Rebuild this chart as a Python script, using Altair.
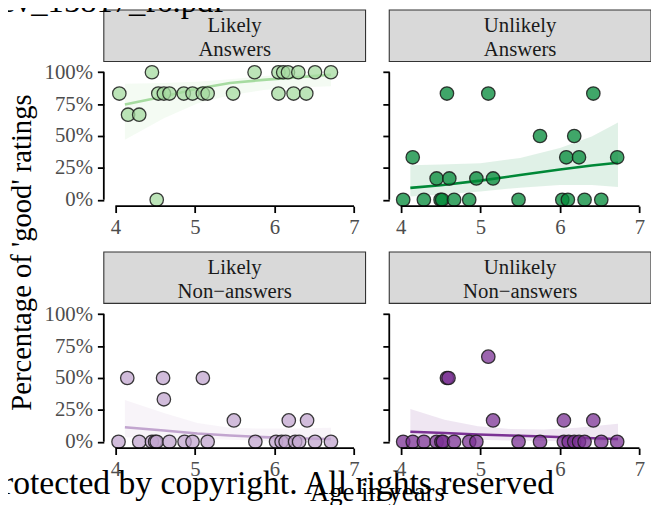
import altair as alt
import pandas as pd

FONT = "Liberation Serif"

panel_labels = ["Likely\nAnswers", "Unlikely\nAnswers", "Likely\nNon\u2212answers", "Unlikely\nNon\u2212answers"]
panel_colors = ["#a6dba0", "#008837", "#c2a5cf", "#7b3294"]

x_ticks = [4, 5, 6, 7]
y_ticks = [0, 0.25, 0.5, 0.75, 1.0]

# ---- observed points: age (years) and share of 'good' ratings ----
la_age = [4.46, 5.75, 6.05, 6.11, 6.17, 6.30, 6.51, 6.71,
          4.05, 4.54, 4.61, 4.68, 4.86, 4.97, 5.10, 5.16, 5.48, 6.05, 6.24, 6.40,
          4.16, 4.30, 4.52]
la_pct = [1.0, 1.0, 1.0, 1.0, 1.0, 1.0, 1.0, 1.0,
          0.833, 0.833, 0.833, 0.833, 0.833, 0.833, 0.833, 0.833, 0.833, 0.833, 0.833, 0.833,
          0.667, 0.667, 0.0]

ua_age = [4.58, 5.10, 6.42,
          5.75, 6.18,
          4.15, 6.08, 6.24, 6.72,
          4.45, 4.61, 4.95, 5.16,
          4.03, 4.29, 4.50, 4.52, 4.67, 4.86, 5.48, 6.03, 6.10, 6.31, 6.52]
ua_pct = [0.833, 0.833, 0.833,
          0.5, 0.5,
          0.333, 0.333, 0.333, 0.333,
          0.167, 0.167, 0.167, 0.167,
          0.0, 0.0, 0.0, 0.0, 0.0, 0.0, 0.0, 0.0, 0.0, 0.0, 0.0]

ln_age = [4.15, 4.60, 5.10,
          4.61,
          5.49, 6.18, 6.41,
          4.04, 4.30, 4.46, 4.50, 4.52, 4.68, 4.87, 4.97, 5.16, 5.76, 6.02, 6.09, 6.14, 6.26, 6.31, 6.51, 6.71]
ln_pct = [0.5, 0.5, 0.5,
          0.333,
          0.167, 0.167, 0.167,
          0.0, 0.0, 0.0, 0.0, 0.0, 0.0, 0.0, 0.0, 0.0, 0.0, 0.0, 0.0, 0.0, 0.0, 0.0, 0.0, 0.0]

un_age = [5.10,
          4.58, 4.60,
          5.16, 6.05, 6.42,
          4.03, 4.15, 4.29, 4.45, 4.51, 4.53, 4.67, 4.86, 4.95, 5.48, 5.75, 6.05, 6.11, 6.18, 6.24, 6.31, 6.52, 6.72]
un_pct = [0.667,
          0.5, 0.5,
          0.167, 0.167, 0.167,
          0.0, 0.0, 0.0, 0.0, 0.0, 0.0, 0.0, 0.0, 0.0, 0.0, 0.0, 0.0, 0.0, 0.0, 0.0, 0.0, 0.0, 0.0]

# ---- fitted curves with confidence band ----
la_fit_age = [4.12, 4.61, 5.03, 5.44, 5.86, 6.27, 6.71]
la_fit_mid = [0.747, 0.81, 0.87, 0.915, 0.94, 0.96, 0.98]
la_fit_lo = [0.47, 0.64, 0.755, 0.82, 0.86, 0.88, 0.89]
la_fit_hi = [0.91, 0.915, 0.925, 0.945, 0.97, 0.985, 0.995]

ua_fit_age = [4.12, 4.50, 5.00, 5.50, 6.00, 6.40, 6.73]
ua_fit_mid = [0.093, 0.114, 0.15, 0.194, 0.238, 0.269, 0.29]
ua_fit_lo = [0.025, 0.04, 0.065, 0.095, 0.115, 0.115, 0.10]
ua_fit_hi = [0.27, 0.276, 0.287, 0.328, 0.406, 0.496, 0.605]

ln_fit_age = [4.12, 4.61, 5.03, 5.44, 5.86, 6.27, 6.71]
ln_fit_mid = [0.114, 0.088, 0.065, 0.049, 0.036, 0.028, 0.021]
ln_fit_lo = [0.035, 0.03, 0.022, 0.015, 0.008, 0.004, 0.002]
ln_fit_hi = [0.328, 0.225, 0.147, 0.109, 0.103, 0.103, 0.109]

un_fit_age = [4.12, 4.55, 4.97, 5.38, 5.80, 6.22, 6.73]
un_fit_mid = [0.078, 0.068, 0.057, 0.049, 0.041, 0.032, 0.021]
un_fit_lo = [0.036, 0.025, 0.015, 0.01, 0.006, 0.003, 0.001]
un_fit_hi = [0.256, 0.173, 0.121, 0.10, 0.096, 0.109, 0.142]

points = [(la_age, la_pct), (ua_age, ua_pct), (ln_age, ln_pct), (un_age, un_pct)]
fits = [(la_fit_age, la_fit_mid, la_fit_lo, la_fit_hi),
        (ua_fit_age, ua_fit_mid, ua_fit_lo, ua_fit_hi),
        (ln_fit_age, ln_fit_mid, ln_fit_lo, ln_fit_hi),
        (un_fit_age, un_fit_mid, un_fit_lo, un_fit_hi)]

W, H = 265, 142
X_DOMAIN = [3.855, 7.145]
Y_DOMAIN = [-0.05, 1.05]

one = pd.DataFrame({"k": [0]})


def panel(i, left, extra):
    c = panel_colors[i]
    pts = pd.DataFrame({"age": points[i][0], "pct": points[i][1]})
    fa, fm, fl, fh = fits[i]
    fit = pd.DataFrame({"age": fa, "mid": fm, "lo": fl, "hi": fh})
    xs = alt.Scale(domain=X_DOMAIN, nice=False, zero=False)
    ys = alt.Scale(domain=Y_DOMAIN, nice=False, zero=False)
    xaxis = alt.Axis(values=x_ticks, format="d", domain=False, grid=False, title=None,
                     tickSize=6.5, tickWidth=1.8, tickColor="black",
                     labelOverlap=False, labelFlush=False,
                     labelFont=FONT, labelFontSize=21, labelColor="#4d4d4d", labelPadding=4)
    yaxis = alt.Axis(values=y_ticks, format=".0%", domain=False, grid=False, title=None,
                     tickSize=6.5, tickWidth=1.8, tickColor="black", labels=left,
                     labelOverlap=False, labelFlush=False,
                     labelFont=FONT, labelFontSize=21, labelColor="#4d4d4d", labelPadding=5)
    X = lambda f: alt.X(f, scale=xs, axis=xaxis)
    Y = lambda f: alt.Y(f, scale=ys, axis=yaxis)
    band = alt.Chart(fit).mark_area(color=c, opacity=0.12).encode(
        x=X("age:Q"), y=Y("lo:Q"), y2="hi:Q")
    line = alt.Chart(fit).mark_line(color=c, strokeWidth=2.6).encode(
        x=X("age:Q"), y=Y("mid:Q"))
    dots = alt.Chart(pts).mark_circle(size=185, color=c, fillOpacity=0.75, stroke="#1a1a1a",
                                      strokeWidth=1.3, strokeOpacity=0.85).encode(
        x=X("age:Q"), y=Y("pct:Q"))
    base = alt.Chart(one)
    xline = base.mark_rule(color="black", strokeWidth=1.8).encode(
        x=alt.XDatum(4, scale=xs, axis=xaxis), x2=alt.datum(7), y=alt.value(H))
    yline = base.mark_rule(color="black", strokeWidth=1.8).encode(
        x=alt.value(0), y=alt.YDatum(0, scale=ys, axis=yaxis), y2=alt.datum(1))
    strip = base.mark_rect(fill="#d9d9d9", stroke="#333333", strokeWidth=1.1).encode(
        x=alt.value(0), x2=alt.value(W), y=alt.value(-56.5), y2=alt.value(-4.5))
    strip_txt = base.mark_text(font=FONT, fontSize=21, color="#1a1a1a", lineBreak="\n",
                               lineHeight=24, align="center", baseline="alphabetic").encode(
        x=alt.value(W / 2), y=alt.value(-34.2), text=alt.value(panel_labels[i]))
    layers = [strip, strip_txt, band, line, dots, xline, yline] + extra
    return alt.layer(*layers).properties(width=W, height=H)


one_chart = alt.Chart(one)
# invisible anchors that fix the corners of the drawing's bounding box
anchor_top = one_chart.mark_rule(opacity=0, strokeWidth=0).encode(
    x=alt.value(-130), x2=alt.value(-129), y=alt.value(-90))
anchor_bottom = one_chart.mark_rule(opacity=0, strokeWidth=0).encode(
    x=alt.value(0), x2=alt.value(1), y=alt.value(203))
top_text = one_chart.mark_text(font=FONT, fontSize=33, color="black", align="left",
                               baseline="alphabetic").encode(
    x=alt.value(-121), y=alt.value(-54.5), text=alt.value("dev_15817_f6.pdf"))
y_title = one_chart.mark_text(font=FONT, fontSize=29, color="black", angle=270,
                              align="center", baseline="middle").encode(
    x=alt.value(-83), y=alt.value(189), text=alt.value("Percentage of 'good' ratings"))
x_title = one_chart.mark_text(font=FONT, fontSize=27, color="black", align="center",
                              baseline="alphabetic").encode(
    x=alt.value(277), y=alt.value(195.5), text=alt.value("Age in years"))
watermark = one_chart.mark_text(font=FONT, fontSize=34, color="black", align="left",
                                baseline="alphabetic").encode(
    x=alt.value(-122), y=alt.value(188.5), text=alt.value("Protected by copyright. All rights reserved"))

p1 = panel(0, True, [anchor_top, top_text, y_title])
p2 = panel(1, False, [])
p3 = panel(2, True, [anchor_bottom, x_title, watermark])
p4 = panel(3, False, [])

chart = alt.concat(p1, p2, p3, p4, columns=2,
                   spacing={"row": 103, "column": 24}, bounds="flush").properties(
    padding={"left": -33, "top": -34.5, "right": -1, "bottom": -6.5}
).configure_view(stroke=None).configure_axis(labelOverlap=False)

chart.save("out.html", embed_options={"renderer": "svg", "actions": False})
